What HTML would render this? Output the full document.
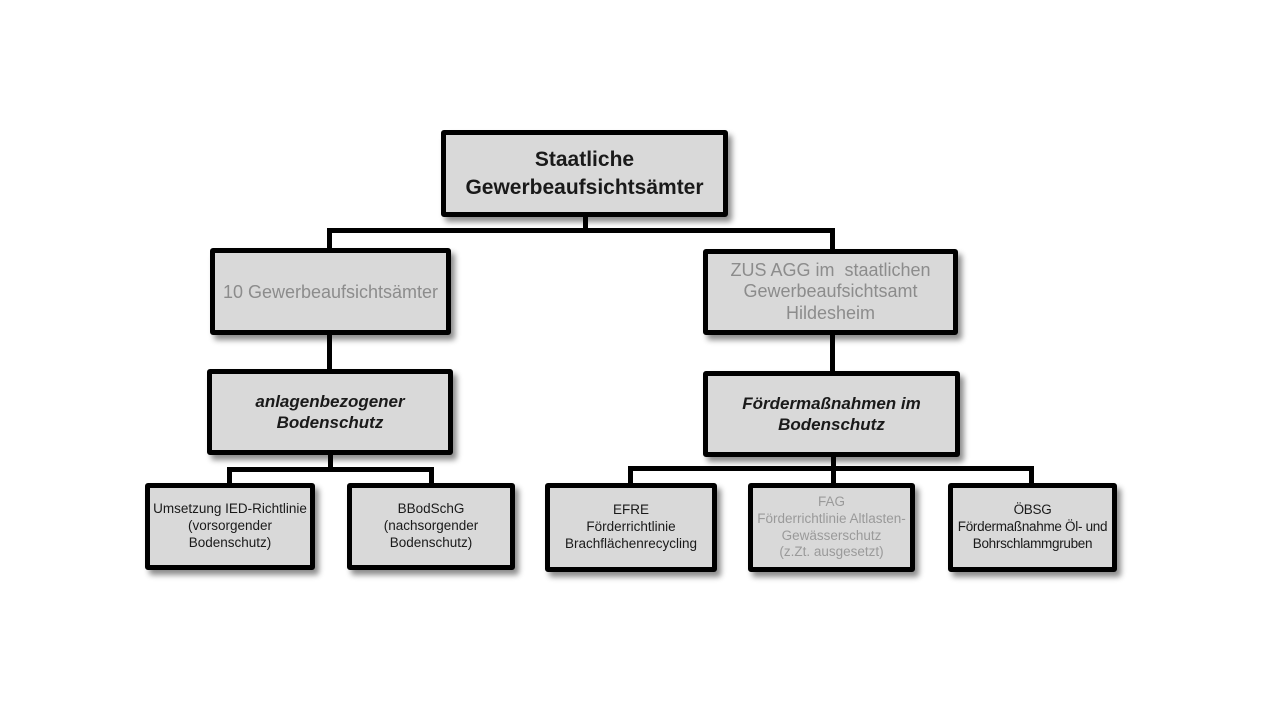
<!DOCTYPE html>
<html>
<head>
<meta charset="utf-8">
<style>
  html,body{margin:0;padding:0;background:#fff;}
  body{width:1280px;height:720px;position:relative;overflow:hidden;font-family:"Liberation Sans",Arial,sans-serif;}
  .box{position:absolute;box-sizing:border-box;border:5px solid #000;border-radius:3px;background:#d9d9d9;
       box-shadow:4px 5px 6px rgba(0,0,0,0.45);display:flex;align-items:center;justify-content:center;
       text-align:center;white-space:nowrap;color:#1a1a1a;z-index:2;}
  .ln{position:absolute;background:#000;z-index:1;}
  .gray{color:#8c8c8c;}
  .small{font-size:13.5px;line-height:16.8px;}
</style>
</head>
<body>
<!-- connectors -->
<div class="ln" style="left:583px;top:214px;width:5px;height:18px;"></div>
<div class="ln" style="left:327px;top:228px;width:508px;height:5px;"></div>
<div class="ln" style="left:327px;top:228px;width:5px;height:23px;"></div>
<div class="ln" style="left:830px;top:228px;width:5px;height:24px;"></div>
<div class="ln" style="left:327px;top:332px;width:5px;height:40px;"></div>
<div class="ln" style="left:830px;top:332px;width:5px;height:42px;"></div>

<div class="ln" style="left:328px;top:452px;width:5px;height:18px;"></div>
<div class="ln" style="left:227px;top:467px;width:207px;height:5px;"></div>
<div class="ln" style="left:227px;top:467px;width:5px;height:19px;"></div>
<div class="ln" style="left:429px;top:467px;width:5px;height:19px;"></div>

<div class="ln" style="left:831px;top:454px;width:5px;height:16px;"></div>
<div class="ln" style="left:628px;top:466px;width:406px;height:5px;"></div>
<div class="ln" style="left:628px;top:466px;width:5px;height:20px;"></div>
<div class="ln" style="left:831px;top:466px;width:5px;height:20px;"></div>
<div class="ln" style="left:1029px;top:466px;width:5px;height:20px;"></div>

<!-- boxes -->
<div class="box" style="left:441px;top:130px;width:287px;height:87px;font-weight:bold;font-size:21px;line-height:28px;">
  <div>Staatliche<br>Gewerbeaufsichtsämter</div>
</div>

<div class="box gray" style="left:210px;top:248px;width:241px;height:87px;font-size:18px;line-height:22px;">
  <div>10 Gewerbeaufsichtsämter</div>
</div>

<div class="box gray" style="left:703px;top:249px;width:255px;height:86px;font-size:18px;line-height:21.5px;">
  <div>ZUS AGG im&nbsp; staatlichen<br>Gewerbeaufsichtsamt<br>Hildesheim</div>
</div>

<div class="box" style="left:207px;top:369px;width:246px;height:86px;font-weight:bold;font-style:italic;font-size:17px;line-height:21px;">
  <div>anlagenbezogener<br>Bodenschutz</div>
</div>

<div class="box" style="left:703px;top:371px;width:257px;height:86px;font-weight:bold;font-style:italic;font-size:17px;line-height:21px;">
  <div>Fördermaßnahmen im<br>Bodenschutz</div>
</div>

<div class="box small" style="left:145px;top:483px;width:170px;height:87px;">
  <div>Umsetzung IED-Richtlinie<br>(vorsorgender<br>Bodenschutz)</div>
</div>

<div class="box small" style="left:347px;top:483px;width:168px;height:87px;">
  <div>BBodSchG<br>(nachsorgender<br>Bodenschutz)</div>
</div>

<div class="box small" style="left:545px;top:483px;width:172px;height:89px;">
  <div>EFRE<br>Förderrichtlinie<br>Brachflächenrecycling</div>
</div>

<div class="box small gray" style="left:748px;top:483px;width:167px;height:89px;color:#9a9a9a;">
  <div>FAG<br>Förderrichtlinie Altlasten-<br>Gewässerschutz<br>(z.Zt. ausgesetzt)</div>
</div>

<div class="box small" style="left:948px;top:483px;width:169px;height:89px;">
  <div style="letter-spacing:-0.3px;">ÖBSG<br>Fördermaßnahme Öl- und<br>Bohrschlammgruben</div>
</div>
</body>
</html>
